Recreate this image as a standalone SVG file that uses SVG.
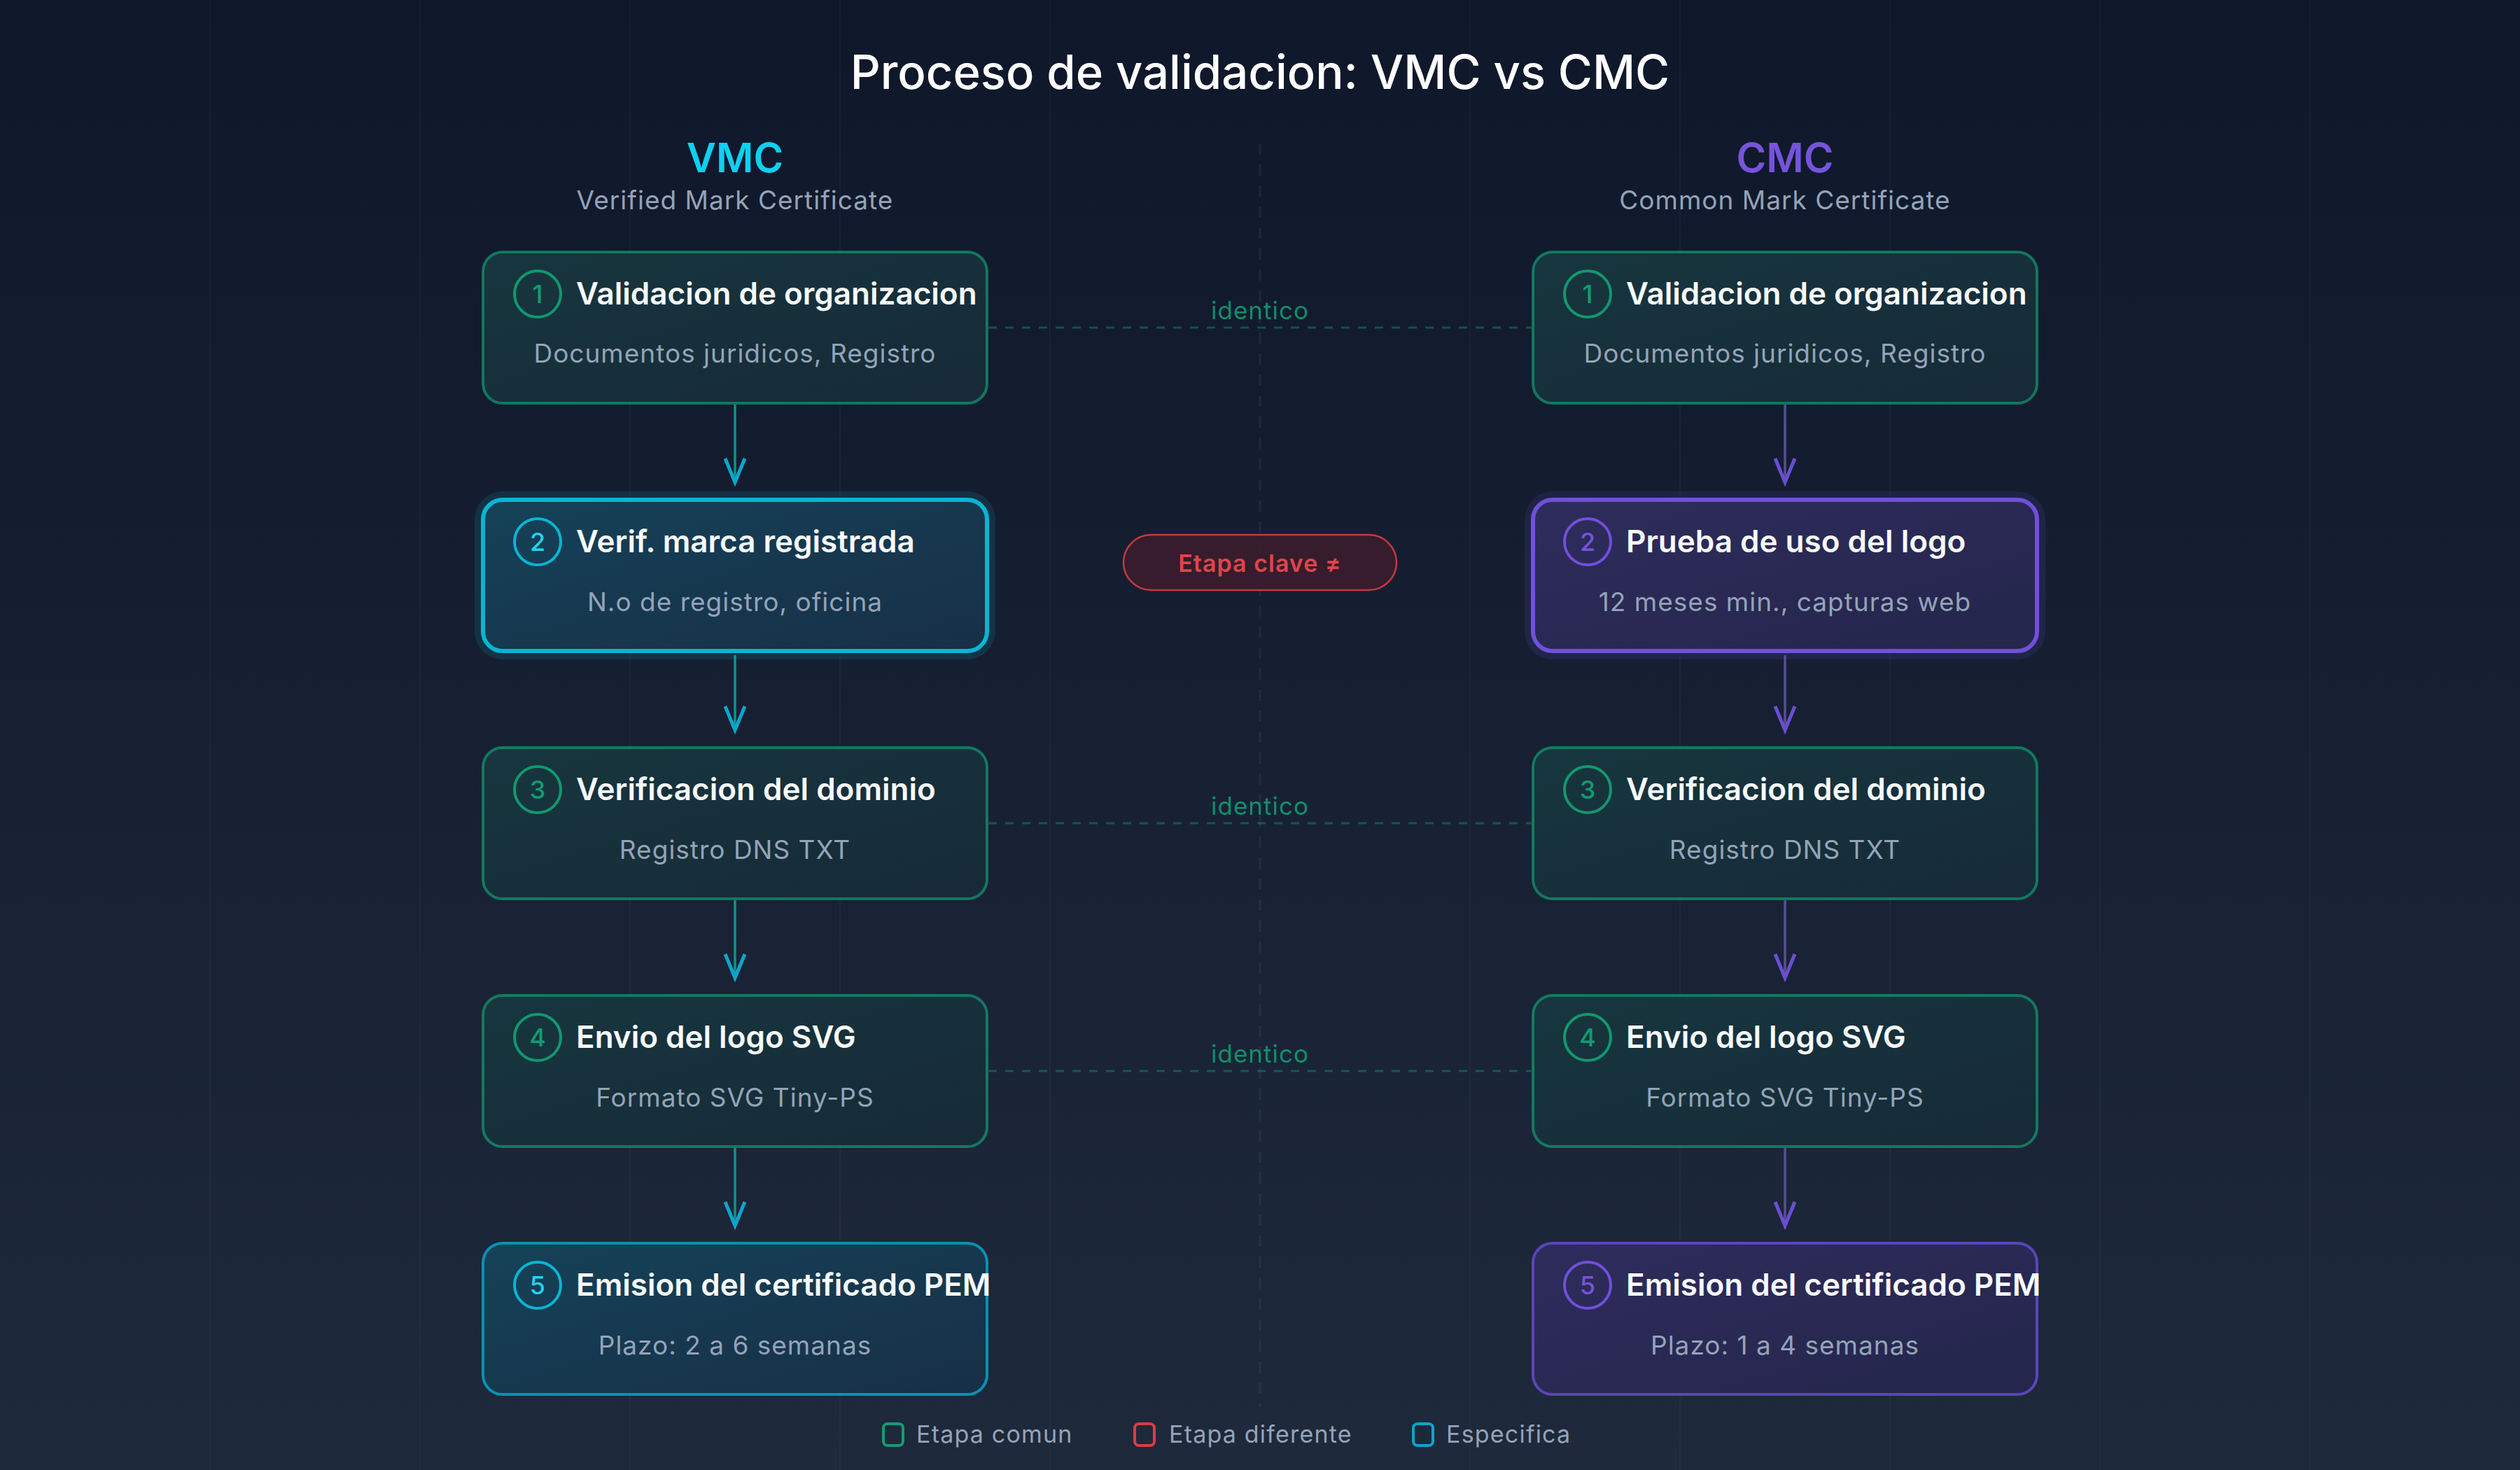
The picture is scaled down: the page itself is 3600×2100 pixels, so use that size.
<svg xmlns="http://www.w3.org/2000/svg" width="3600" height="2100" viewBox="0 0 3600 2100">
<style>
.t{font-family:Inter,"Noto Sans","Liberation Sans",sans-serif}
.title{font-size:67px;font-weight:500;fill:#ffffff}
.hdr{font-size:58px;font-weight:600}
.hsub{font-size:37px;fill:#94a3b8;letter-spacing:1px}
.nt{font-size:44px;font-weight:600;fill:#f8fafc}
.ns{font-size:37px;fill:#94a3b8;letter-spacing:1px}
.num{font-size:36px;font-weight:500}
.idl{font-size:35px;fill:#10b981;fill-opacity:0.72;letter-spacing:1px}
.leg{font-size:34px;fill:#94a3b8;letter-spacing:1.2px}
.common{stroke:#10b981;stroke-opacity:0.55;stroke-width:4;fill:url(#gCommon)}
.vkey{stroke:#06b6d4;stroke-width:6;fill:url(#gV)}
.vend{stroke:#0891b2;stroke-width:4;fill:url(#gV)}
.ckey{stroke:#7050dc;stroke-width:6;fill:url(#gC)}
.cend{stroke:#5c45b8;stroke-width:4;fill:url(#gC)}
.ident{stroke:#10b981;stroke-opacity:0.35;stroke-width:3;stroke-dasharray:12 12;fill:none}
.av{stroke:#13908c;stroke-width:3.5;fill:none;marker-end:url(#mV)}
.ac{stroke:#55508f;stroke-width:3.5;fill:none;marker-end:url(#mC)}
.grid{stroke:#94a3b8;stroke-opacity:0.05;stroke-width:2}
</style>
<defs>
<linearGradient id="bg" x1="0" y1="0" x2="0" y2="1">
<stop offset="0" stop-color="#0f172a"/>
<stop offset="1" stop-color="#1e293b"/>
</linearGradient>
<linearGradient id="gCommon" x1="0" y1="0" x2="1" y2="1">
<stop offset="0" stop-color="#17363e"/>
<stop offset="1" stop-color="#162a37"/>
</linearGradient>
<linearGradient id="gV" x1="0" y1="0" x2="1" y2="1">
<stop offset="0" stop-color="#154258"/>
<stop offset="1" stop-color="#172f46"/>
</linearGradient>
<linearGradient id="gC" x1="0" y1="0" x2="1" y2="1">
<stop offset="0" stop-color="#2e2c5c"/>
<stop offset="1" stop-color="#24264c"/>
</linearGradient>
<marker id="mV" markerUnits="userSpaceOnUse" orient="auto" markerWidth="60" markerHeight="60" refX="0" refY="0" overflow="visible">
<path d="M-34,-14 L0,0 L-34,14" fill="none" stroke="#0ea5c9" stroke-width="5" stroke-linejoin="miter"/>
</marker>
<marker id="mC" markerUnits="userSpaceOnUse" orient="auto" markerWidth="60" markerHeight="60" refX="0" refY="0" overflow="visible">
<path d="M-34,-14 L0,0 L-34,14" fill="none" stroke="#6a4fd0" stroke-width="5" stroke-linejoin="miter"/>
</marker>
</defs>

<rect x="0" y="0" width="3600" height="2100" fill="url(#bg)"/>
<g id="grid">
<line class="grid" x1="300" y1="0" x2="300" y2="2100"/>
<line class="grid" x1="600" y1="0" x2="600" y2="2100"/>
<line class="grid" x1="900" y1="0" x2="900" y2="2100"/>
<line class="grid" x1="1200" y1="0" x2="1200" y2="2100"/>
<line class="grid" x1="1500" y1="0" x2="1500" y2="2100"/>
<line class="grid" x1="2100" y1="0" x2="2100" y2="2100"/>
<line class="grid" x1="2400" y1="0" x2="2400" y2="2100"/>
<line class="grid" x1="2700" y1="0" x2="2700" y2="2100"/>
<line class="grid" x1="3000" y1="0" x2="3000" y2="2100"/>
<line class="grid" x1="3300" y1="0" x2="3300" y2="2100"/>
</g>
<line id="divider" x1="1800" y1="205" x2="1800" y2="2010" stroke="#94a3b8" stroke-opacity="0.1" stroke-width="3" stroke-dasharray="16 14"/>

<text class="t title" x="1800" y="127" text-anchor="middle">Proceso de validacion: VMC vs CMC</text>

<g id="hdr-vmc">
<text class="t hdr" x="1050" y="246" text-anchor="middle" fill="#0fd0f2">VMC</text>
<text class="t hsub" x="1050" y="299" text-anchor="middle">Verified Mark Certificate</text>
</g>
<g id="hdr-cmc">
<text class="t hdr" x="2550" y="246" text-anchor="middle" fill="#7654da">CMC</text>
<text class="t hsub" x="2550" y="299" text-anchor="middle">Common Mark Certificate</text>
</g>

<g id="connectors">
<line class="ident" x1="1412" y1="468" x2="2188" y2="468"/>
<line class="ident" x1="1412" y1="1176" x2="2188" y2="1176"/>
<line class="ident" x1="1412" y1="1530" x2="2188" y2="1530"/>
<text class="t idl" x="1800" y="456" text-anchor="middle">identico</text>
<text class="t idl" x="1800" y="1164" text-anchor="middle">identico</text>
<text class="t idl" x="1800" y="1518" text-anchor="middle">identico</text>
<line class="av" x1="1050" y1="578" x2="1050" y2="689"/>
<line class="av" x1="1050" y1="936" x2="1050" y2="1043"/>
<line class="av" x1="1050" y1="1286" x2="1050" y2="1397"/>
<line class="av" x1="1050" y1="1640" x2="1050" y2="1751"/>
<line class="ac" x1="2550" y1="578" x2="2550" y2="689"/>
<line class="ac" x1="2550" y1="936" x2="2550" y2="1043"/>
<line class="ac" x1="2550" y1="1286" x2="2550" y2="1397"/>
<line class="ac" x1="2550" y1="1640" x2="2550" y2="1751"/>
</g>

<g id="vmc-1">
<rect class="common" x="690" y="360" width="720" height="216" rx="28"/>
<circle cx="768" cy="420" r="33" fill="none" stroke="#10b981" stroke-opacity="0.75" stroke-width="4"/>
<text class="t num" x="768" y="433" text-anchor="middle" fill="#10b981" fill-opacity="0.8">1</text>
<text class="t nt" x="823" y="435">Validacion de organizacion</text>
<text class="t ns" x="1050" y="518" text-anchor="middle">Documentos juridicos, Registro</text>
</g>
<g id="vmc-2">
<rect x="678" y="702" width="744" height="240" rx="40" fill="#06b6d4" fill-opacity="0.13"/>
<rect class="vkey" x="690" y="714" width="720" height="216" rx="28"/>
<circle cx="768" cy="774" r="33" fill="none" stroke="#06b6d4" stroke-width="4"/>
<text class="t num" x="768" y="787" text-anchor="middle" fill="#22d3ee">2</text>
<text class="t nt" x="823" y="789">Verif. marca registrada</text>
<text class="t ns" x="1050" y="873" text-anchor="middle">N.o de registro, oficina</text>
</g>
<g id="vmc-3">
<rect class="common" x="690" y="1068" width="720" height="216" rx="28"/>
<circle cx="768" cy="1128" r="33" fill="none" stroke="#10b981" stroke-opacity="0.75" stroke-width="4"/>
<text class="t num" x="768" y="1141" text-anchor="middle" fill="#10b981" fill-opacity="0.8">3</text>
<text class="t nt" x="823" y="1143">Verificacion del dominio</text>
<text class="t ns" x="1050" y="1227" text-anchor="middle">Registro DNS TXT</text>
</g>
<g id="vmc-4">
<rect class="common" x="690" y="1422" width="720" height="216" rx="28"/>
<circle cx="768" cy="1482" r="33" fill="none" stroke="#10b981" stroke-opacity="0.75" stroke-width="4"/>
<text class="t num" x="768" y="1495" text-anchor="middle" fill="#10b981" fill-opacity="0.8">4</text>
<text class="t nt" x="823" y="1497">Envio del logo SVG</text>
<text class="t ns" x="1050" y="1581" text-anchor="middle">Formato SVG Tiny-PS</text>
</g>
<g id="vmc-5">
<rect class="vend" x="690" y="1776" width="720" height="216" rx="28"/>
<circle cx="768" cy="1836" r="33" fill="none" stroke="#06b6d4" stroke-width="4"/>
<text class="t num" x="768" y="1849" text-anchor="middle" fill="#22d3ee">5</text>
<text class="t nt" x="823" y="1851">Emision del certificado PEM</text>
<text class="t ns" x="1050" y="1935" text-anchor="middle">Plazo: 2 a 6 semanas</text>
</g>

<g id="cmc-1">
<rect class="common" x="2190" y="360" width="720" height="216" rx="28"/>
<circle cx="2268" cy="420" r="33" fill="none" stroke="#10b981" stroke-opacity="0.75" stroke-width="4"/>
<text class="t num" x="2268" y="433" text-anchor="middle" fill="#10b981" fill-opacity="0.8">1</text>
<text class="t nt" x="2323" y="435">Validacion de organizacion</text>
<text class="t ns" x="2550" y="518" text-anchor="middle">Documentos juridicos, Registro</text>
</g>
<g id="cmc-2">
<rect x="2178" y="702" width="744" height="240" rx="40" fill="#7050dc" fill-opacity="0.13"/>
<rect class="ckey" x="2190" y="714" width="720" height="216" rx="28"/>
<circle cx="2268" cy="774" r="33" fill="none" stroke="#7050dc" stroke-width="4"/>
<text class="t num" x="2268" y="787" text-anchor="middle" fill="#7654da">2</text>
<text class="t nt" x="2323" y="789">Prueba de uso del logo</text>
<text class="t ns" x="2550" y="873" text-anchor="middle">12 meses min., capturas web</text>
</g>
<g id="cmc-3">
<rect class="common" x="2190" y="1068" width="720" height="216" rx="28"/>
<circle cx="2268" cy="1128" r="33" fill="none" stroke="#10b981" stroke-opacity="0.75" stroke-width="4"/>
<text class="t num" x="2268" y="1141" text-anchor="middle" fill="#10b981" fill-opacity="0.8">3</text>
<text class="t nt" x="2323" y="1143">Verificacion del dominio</text>
<text class="t ns" x="2550" y="1227" text-anchor="middle">Registro DNS TXT</text>
</g>
<g id="cmc-4">
<rect class="common" x="2190" y="1422" width="720" height="216" rx="28"/>
<circle cx="2268" cy="1482" r="33" fill="none" stroke="#10b981" stroke-opacity="0.75" stroke-width="4"/>
<text class="t num" x="2268" y="1495" text-anchor="middle" fill="#10b981" fill-opacity="0.8">4</text>
<text class="t nt" x="2323" y="1497">Envio del logo SVG</text>
<text class="t ns" x="2550" y="1581" text-anchor="middle">Formato SVG Tiny-PS</text>
</g>
<g id="cmc-5">
<rect class="cend" x="2190" y="1776" width="720" height="216" rx="28"/>
<circle cx="2268" cy="1836" r="33" fill="none" stroke="#7050dc" stroke-width="4"/>
<text class="t num" x="2268" y="1849" text-anchor="middle" fill="#7654da">5</text>
<text class="t nt" x="2323" y="1851">Emision del certificado PEM</text>
<text class="t ns" x="2550" y="1935" text-anchor="middle">Plazo: 1 a 4 semanas</text>
</g>

<g id="key-badge">
<rect x="1605" y="764" width="390" height="79" rx="39.5" fill="#3a1c2c" fill-opacity="0.9" stroke="#c23a42" stroke-width="2.5"/>
<text class="t" x="1800" y="817" text-anchor="middle" font-size="34" font-weight="600" letter-spacing="1" fill="#e0444a">Etapa clave ≠</text>
</g>

<g id="legend">
<rect x="1262" y="2034" width="28" height="31" rx="6" fill="none" stroke="#10b981" stroke-opacity="0.8" stroke-width="4"/>
<text class="t leg" x="1309" y="2061">Etapa comun</text>
<rect x="1621" y="2034" width="28" height="31" rx="6" fill="none" stroke="#dc3c42" stroke-width="4"/>
<text class="t leg" x="1670" y="2061">Etapa diferente</text>
<rect x="2019" y="2034" width="28" height="31" rx="6" fill="none" stroke="#0ea5c9" stroke-width="4"/>
<text class="t leg" x="2066" y="2061">Especifica</text>
</g>
</svg>
